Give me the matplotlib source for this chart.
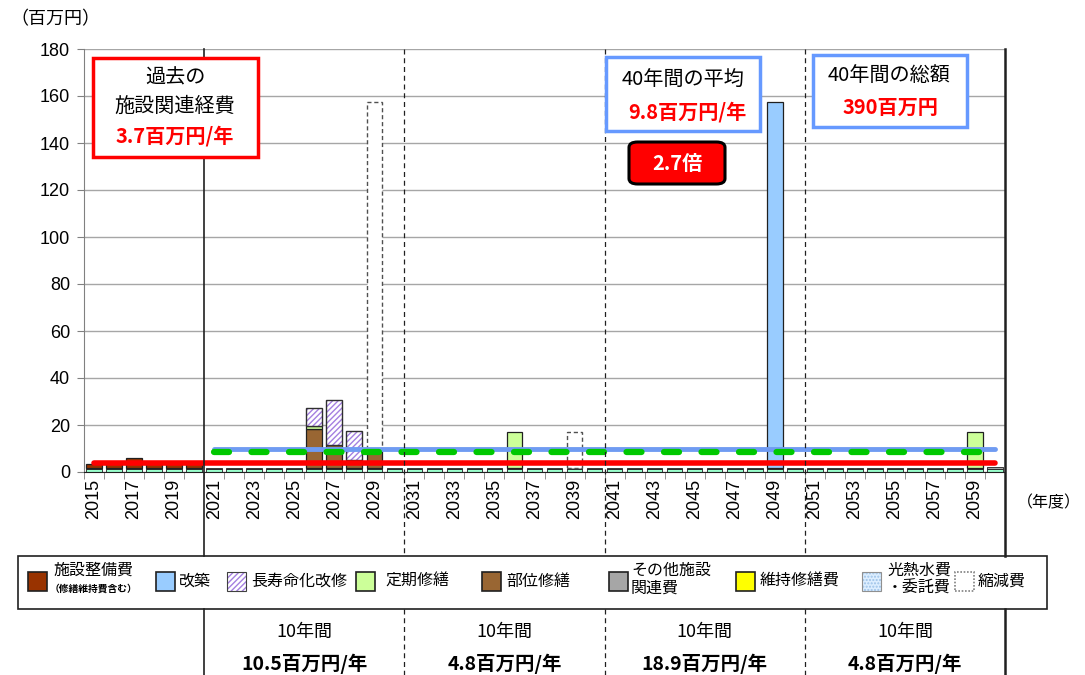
import numpy as np
import matplotlib
matplotlib.use("Agg")
import matplotlib.pyplot as plt
from matplotlib.patches import Rectangle, FancyBboxPatch
from matplotlib.lines import Line2D
import matplotlib.transforms as mtransforms

plt.rcParams['font.family'] = ['Liberation Sans', 'Noto Sans CJK JP', 'DejaVu Sans']
plt.rcParams['hatch.linewidth'] = 1.0
JP = ['Noto Sans CJK JP', 'DejaVu Sans']

# ---------------- data ----------------
years = list(range(2015, 2061))
year_labels = [str(y) for y in years]

# bottom layers (every year)
utilities = [1.2, 1.2, 1.2, 1.2, 1.2, 1.2, 1.2, 1.2, 1.2, 1.2,
             1.2, 1.2, 1.2, 1.2, 1.2, 1.2, 1.2, 1.2, 1.2, 1.2,
             1.2, 1.2, 1.2, 1.2, 1.2, 1.2, 1.2, 1.2, 1.2, 1.2,
             1.2, 1.2, 1.2, 1.2, 1.2, 1.2, 1.2, 1.2, 1.2, 1.2,
             1.2, 1.2, 1.2, 1.2, 1.2, 1.2]
other_costs = [0.3, 0.3, 0.3, 0.3, 0.3, 0.3, 0.3, 0.3, 0.3, 0.3,
               0.3, 0.3, 0.3, 0.3, 0.3, 0.3, 0.3, 0.3, 0.3, 0.3,
               0.3, 0.3, 0.3, 0.3, 0.3, 0.3, 0.3, 0.3, 0.3, 0.3,
               0.3, 0.3, 0.3, 0.3, 0.3, 0.3, 0.3, 0.3, 0.3, 0.3,
               0.3, 0.3, 0.3, 0.3, 0.3, 1.0]
# sparse series (year -> value)
facility = {2015: 1.9, 2016: 2.3, 2017: 4.3, 2018: 2.3, 2019: 2.2, 2020: 2.2}
partial_repair = {2026: 16.8, 2027: 10.0, 2028: 3.8, 2029: 7.4}
periodic_repair = {2026: 1.3, 2036: 15.7, 2059: 15.7}
life_extension = {2026: 7.6, 2027: 19.2, 2028: 12.1}
rebuild = {2049: 156.1}
reduction = {2029: 148.7, 2039: 15.7}

past_avg = 3.7
avg_40y = 9.8
avg_green = 8.3
line_start_40y = 2021

decade_values = ['10.5百万円/年', '4.8百万円/年', '18.9百万円/年', '4.8百万円/年']
decade_starts = [2021, 2031, 2041, 2051]

legend_labels = ['施設整備費', '改築', '長寿命化改修', '定期修繕', '部位修繕',
                 'その他施設\n関連費', '維持修繕費', '光熱水費\n・委託費', '縮減費']

# ---------------- figure ----------------
W, H = 1085, 675
fig = plt.figure(figsize=(W / 100, H / 100), dpi=100)
def fx(px): return px / W
def fy(py): return 1 - py / H

ax = fig.add_axes([fx(84), fy(472), fx(1005) - fx(84), fy(49) - fy(472)])
n = len(years)
x = np.arange(n)
ax.set_xlim(-0.5, n - 0.5)
ax.set_ylim(0, 180)
ax.set_axisbelow(True)
ax.yaxis.grid(True, color='#A6A6A6', lw=1)

bw = 0.78
bottom = np.zeros(n)

def as_list(d):
    return np.array([d.get(y, 0.0) for y in years], float)

def stack(vals, style, lw=0.9):
    global bottom
    v = np.asarray(vals, float)
    m = v > 0
    if style == 'hatch':
        ax.bar(x[m], v[m], bw, bottom=bottom[m], facecolor='white',
               edgecolor='#A47FE0', hatch='//////', linewidth=0, zorder=2)
        ax.bar(x[m], v[m], bw, bottom=bottom[m], fill=False,
               edgecolor='#303030', linewidth=1.0, zorder=2.1)
    elif style == 'dash':
        ax.bar(x[m], v[m], bw, bottom=bottom[m], facecolor='white',
               edgecolor='#505050', linewidth=1.0, linestyle=(0, (3, 2)), zorder=2)
    else:
        ax.bar(x[m], v[m], bw, bottom=bottom[m], facecolor=style,
               edgecolor='#202020', linewidth=lw, zorder=2)
    bottom = bottom + v

stack(utilities, '#99FFCC', lw=0.6)
stack(other_costs, '#A6A6A6', lw=0.6)
stack(as_list(facility), '#993300')
stack(as_list(partial_repair), '#996633')
stack(as_list(periodic_repair), '#CCFF99')
stack(as_list(life_extension), 'hatch')
stack(as_list(rebuild), '#99CCFF')
stack(as_list(reduction), 'dash')

# average lines
i0 = years.index(line_start_40y)
ax.plot(x, [past_avg] * n, color='#FF0000', lw=4, solid_capstyle='round', zorder=4)
ax.plot(x[i0:], [avg_40y] * (n - i0), color='#6F9BF2', lw=3.5, solid_capstyle='round', zorder=4)
ax.plot(x[i0:], [avg_green] * (n - i0), color='#00C800', lw=4.5, linestyle=(0, (2.4, 3.6)),
        dash_capstyle='round', zorder=4.5)

# axes styling
ax.set_yticks(range(0, 181, 20))
ax.tick_params(axis='y', length=5, color='#808080', labelsize=13, pad=5)
ax.set_xticks(x[::2])
ax.set_xticklabels(year_labels[::2], rotation=90, fontsize=13)
ax.tick_params(axis='x', which='major', length=0, pad=5)
ax.set_xticks(np.arange(-0.5, n), minor=True)
ax.tick_params(axis='x', which='minor', length=5, color='#808080')
for s in ['top', 'right']:
    ax.spines[s].set_visible(False)
ax.spines['left'].set_color('#808080')
ax.spines['bottom'].set_color('#202020')

# separators
trans = mtransforms.blended_transform_factory(ax.transData, fig.transFigure)
seps = [(5.5, '-', 1.2), (15.5, (0, (4, 3)), 0.9), (25.5, (0, (4, 3)), 0.9),
        (35.5, (0, (4, 3)), 0.9), (45.5, '-', 1.8)]
for xb, ls, lw in seps:
    fig.add_artist(Line2D([xb, xb], [fy(49), fy(556)], transform=trans,
                          color='#202020', lw=lw, linestyle=ls, zorder=5))
    fig.add_artist(Line2D([xb, xb], [fy(609), fy(675)], transform=trans,
                          color='#202020', lw=lw, linestyle=ls, zorder=5))

# bottom table texts
for ys, val in zip(decade_starts, decade_values):
    xc = years.index(ys) + 4.5
    fig.add_artist(plt.Text(xc, fy(632), '10年間', transform=trans, ha='center', va='center',
                            fontsize=13, family=JP))
    fig.add_artist(plt.Text(xc, fy(664), val, transform=trans, ha='center', va='center',
                            fontsize=14, fontweight='bold', family=JP))

# axis unit labels
fig.text(fx(55), fy(19), '（百万円）', ha='center', va='center', fontsize=13, family=JP)
fig.text(fx(1081), fy(503), '（年度）', ha='right', va='center', fontsize=11.5, family=JP)

# annotation boxes
def box(x0, y0, x1, y1, ec, lw, fc='white', rounded=False):
    if rounded:
        p = FancyBboxPatch((fx(x0), fy(y1)), fx(x1) - fx(x0), fy(y0) - fy(y1),
                           boxstyle='round,pad=0,rounding_size=0.008',
                           transform=fig.transFigure, fc=fc, ec=ec, lw=lw, zorder=6)
    else:
        p = Rectangle((fx(x0), fy(y1)), fx(x1) - fx(x0), fy(y0) - fy(y1),
                      transform=fig.transFigure, fc=fc, ec=ec, lw=lw, zorder=6)
    fig.add_artist(p)

FS = 14.5
box(93, 58, 258, 157, '#FF0000', 2.5)
fig.text(fx(175), fy(78), '過去の', ha='center', va='center', fontsize=FS, family=JP, zorder=7)
fig.text(fx(175), fy(106), '施設関連経費', ha='center', va='center', fontsize=FS, family=JP, zorder=7)
fig.text(fx(175), fy(136), '3.7百万円/年', ha='center', va='center', fontsize=FS,
         fontweight='bold', color='#FF0000', family=JP, zorder=7)

box(606, 57, 760, 131, '#6699FF', 2.5)
fig.text(fx(683), fy(80), '40年間の平均', ha='center', va='center', fontsize=FS, family=JP, zorder=7)
fig.text(fx(687), fy(112), '9.8百万円/年', ha='center', va='center', fontsize=FS,
         fontweight='bold', color='#FF0000', family=JP, zorder=7)

box(813, 55, 967, 127, '#6699FF', 2.5)
fig.text(fx(889), fy(75), '40年間の総額', ha='center', va='center', fontsize=FS, family=JP, zorder=7)
fig.text(fx(890), fy(107), '390百万円', ha='center', va='center', fontsize=FS,
         fontweight='bold', color='#FF0000', family=JP, zorder=7)

box(629, 142, 725, 184, '#000000', 2.2, fc='#FF0000', rounded=True)
fig.text(fx(677), fy(164), '2.7倍', ha='center', va='center', fontsize=FS,
         fontweight='bold', color='white', family=JP, zorder=7)

# legend
fig.add_artist(Rectangle((fx(18), fy(609)), fx(1047) - fx(18), fy(556) - fy(609),
                         transform=fig.transFigure, fill=False, ec='#202020', lw=1.2))
leg_sq_x = [28, 156, 227, 356, 482, 609, 736, 862, 955]
leg_tx_x = [53, 179, 251, 385, 506, 631, 760, 887, 978]
leg_styles = [dict(fc='#993300', ec='#202020'),
              dict(fc='#99CCFF', ec='#202020'),
              dict(fc='white', ec='#A47FE0', hatch='//////'),
              dict(fc='#CCFF99', ec='#202020'),
              dict(fc='#996633', ec='#202020'),
              dict(fc='#A6A6A6', ec='#202020'),
              dict(fc='#FFFF00', ec='#202020'),
              dict(fc='#DDEEFF', ec='#9CC2E8', hatch='.....'),
              dict(fc='white', ec='#808080', ls=(0, (1, 1)))]
sq = 19
for i, (sx, tx, lab, st) in enumerate(zip(leg_sq_x, leg_tx_x, legend_labels, leg_styles)):
    r = Rectangle((fx(sx), fy(572 + sq)), fx(sq), sq / H, transform=fig.transFigure,
                  lw=1.2 if 'hatch' not in st else 0, **st)
    fig.add_artist(r)
    if 'hatch' in st:
        fig.add_artist(Rectangle((fx(sx), fy(572 + sq)), fx(sq), sq / H,
                                 transform=fig.transFigure, fill=False,
                                 ec='#909090' if i == 7 else '#404040', lw=0.8))
    if i == 0:
        fig.text(fx(tx), fy(570), lab, ha='left', va='center', fontsize=11.5, family=JP)
        fig.text(fx(tx - 3), fy(589), '（修繕維持費含む）', ha='left', va='center',
                 fontsize=7, fontweight='bold', family=JP)
    elif '\n' in lab:
        fig.text(fx(tx), fy(579), lab, ha='left', va='center', fontsize=11.5, family=JP,
                 linespacing=1.05)
    else:
        fig.text(fx(tx), fy(581), lab, ha='left', va='center', fontsize=11.5, family=JP)

fig.savefig('out.png', dpi=100)
